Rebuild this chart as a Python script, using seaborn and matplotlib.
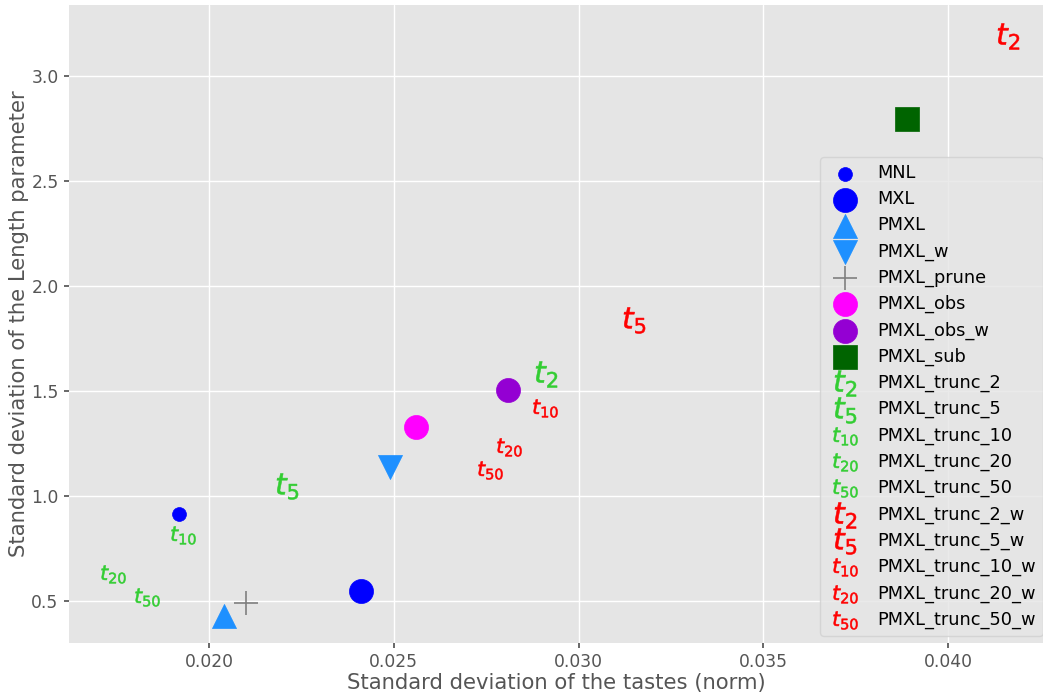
import matplotlib
matplotlib.use("Agg")
import matplotlib.pyplot as plt
import seaborn as sns

# Model names and their estimated standard deviations
models = ["MNL", "MXL", "PMXL", "PMXL_w", "PMXL_prune", "PMXL_obs", "PMXL_obs_w",
          "PMXL_sub", "PMXL_trunc_2", "PMXL_trunc_5", "PMXL_trunc_10",
          "PMXL_trunc_20", "PMXL_trunc_50", "PMXL_trunc_2_w", "PMXL_trunc_5_w",
          "PMXL_trunc_10_w", "PMXL_trunc_20_w", "PMXL_trunc_50_w"]
sd_tastes = [0.01919, 0.02411, 0.02041, 0.02490, 0.02100, 0.02560, 0.02809,
             0.03889, 0.02912, 0.02211, 0.01930, 0.01740, 0.01832, 0.04162,
             0.03150, 0.02909, 0.02811, 0.02760]
sd_length = [0.914, 0.548, 0.429, 1.138, 0.490, 1.329, 1.505,
             2.795, 1.581, 1.048, 0.814, 0.629, 0.519, 3.190,
             1.838, 1.421, 1.231, 1.126]

# Marker styles per model
markers = ["o", "o", "^", "v", "+", "o", "o", "s",
           "$t_2$", "$t_5$", "$t_{10}$", "$t_{20}$", "$t_{50}$",
           "$t_2$", "$t_5$", "$t_{10}$", "$t_{20}$", "$t_{50}$"]
colors = ["blue", "blue", "dodgerblue", "dodgerblue", "grey", "magenta",
          "darkviolet", "darkgreen"] + ["limegreen"] * 5 + ["red"] * 5
sizes = [100, 300, 300, 300, 300, 300, 300, 300,
         350, 350, 300, 300, 300, 350, 350, 300, 300, 300]

sns.set_theme(style="darkgrid", rc={
    "axes.facecolor": "#E5E5E5",
    "grid.color": "white",
    "grid.linewidth": 1.0,
    "axes.edgecolor": "white",
    "axes.labelcolor": "#555555",
    "xtick.color": "#555555",
    "ytick.color": "#555555",
    "xtick.bottom": True,
    "ytick.left": True,
    "xtick.major.size": 3.5,
    "ytick.major.size": 3.5,
    "figure.facecolor": "white",
})
plt.rcParams["font.family"] = ["DejaVu Sans"]

W, H = 1043, 696
fig = plt.figure(figsize=(W / 100, H / 100), dpi=100)
ax = fig.add_axes([69 / W, (H - 643) / H, (W - 69) / W, (643 - 5) / H])

for name, x, y, m, c, s in zip(models, sd_tastes, sd_length, markers, colors, sizes):
    if m == "+":
        lw = 1.2
    elif m.startswith("$"):
        lw = 0.4
    else:
        lw = 0.5
    sns.scatterplot(x=[x], y=[y], marker=m, s=s, color=c, edgecolor=c,
                    linewidth=lw, label=name, ax=ax)

ax.set_xlim(0.01621, 0.04257)
ax.set_ylim(0.30, 3.338)
ax.set_xticks([0.020, 0.025, 0.030, 0.035, 0.040])
ax.set_yticks([0.5, 1.0, 1.5, 2.0, 2.5, 3.0])
ax.tick_params(labelsize=12.3, pad=4)
for sp in ax.spines.values():
    sp.set_visible(False)

ax.set_xlabel("Standard deviation of the tastes (norm)", fontsize=15.2, labelpad=1)
ax.set_ylabel("Standard deviation of the Length parameter", fontsize=15.2, labelpad=1.5)

leg = ax.legend(loc="lower right", bbox_to_anchor=(1.0, 7 / 638), borderaxespad=0,
                fontsize=12.8, frameon=True, facecolor="#E5E5E5", framealpha=0.8,
                edgecolor="#D0D0D0", labelspacing=0.452, handletextpad=0.8,
                labelcolor="black")

fig.savefig("out.png", dpi=100)
